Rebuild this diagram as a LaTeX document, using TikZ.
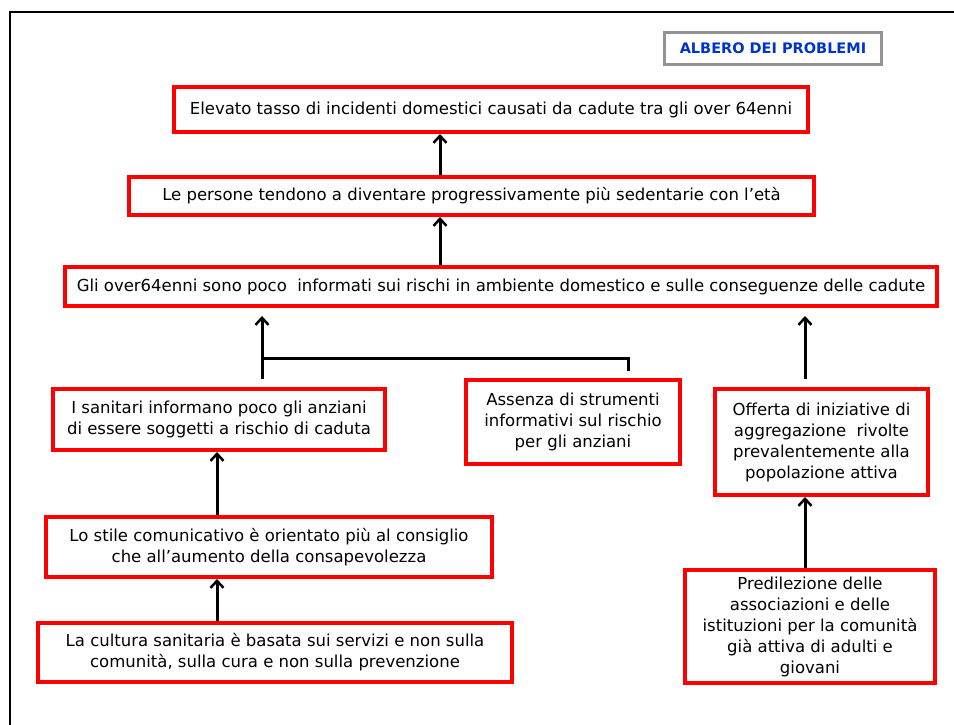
\documentclass[tikz,border=0pt]{standalone}
\usepackage{fontspec}
\setmainfont{DejaVu Sans}
\usetikzlibrary{arrows.meta}
\definecolor{boxred}{RGB}{255,0,0}
\definecolor{titleblue}{RGB}{0,51,204}
\begin{document}
\begin{tikzpicture}[x=1pt,y=-1pt,
  box/.style={draw=boxred, line width=4pt, fill=white, inner sep=0pt, align=center,
    anchor=north west, font=\fontsize{16.5}{21}\selectfont},
  titlebox/.style={draw=gray!85, line width=3pt, fill=white, inner sep=0pt, anchor=north west,
    text=titleblue, font=\fontsize{14.5}{16}\selectfont\bfseries},
  arr/.style={line width=3pt, -{Straight Barb[length=7pt,width=13pt,line width=2.5pt]}},
  link/.style={line width=3pt}]
\useasboundingbox (0,0) rectangle (954,725);
\draw[line width=2.5pt] (954,12) -- (10,12) -- (10,725);
\node[titlebox, minimum width=217pt, minimum height=32pt] (title) at (663,31) {ALBERO DEI PROBLEMI};
\node[box, minimum width=634pt, minimum height=45pt] (b1) at (172,85)
  {Elevato tasso di incidenti domestici causati da cadute tra gli over 64enni};
\node[box, minimum width=685pt, minimum height=38pt] (b2) at (127,175)
  {Le persone tendono a diventare progressivamente più sedentarie con l’età};
\node[box, minimum width=872pt, minimum height=39pt] (b3) at (63,265)
  {Gli over64enni sono poco\ \ informati sui rischi in ambiente domestico e sulle conseguenze delle cadute};
\node[box, minimum width=332pt, minimum height=61pt] (b4) at (51,387)
  {I sanitari informano poco gli anziani\\di essere soggetti a rischio di caduta};
\node[box, minimum width=446pt, minimum height=60pt] (b5) at (44,515)
  {Lo stile comunicativo è orientato più al consiglio\\che all’aumento della consapevolezza};
\node[box, minimum width=474pt, minimum height=59pt] (b6) at (36,621)
  {La cultura sanitaria è basata sui servizi e non sulla\\comunità, sulla cura e non sulla prevenzione};
\node[box, minimum width=214pt, minimum height=84pt] (b7) at (464,378)
  {Assenza di strumenti\\informativi sul rischio\\per gli anziani};
\node[box, minimum width=213pt, minimum height=106pt] (b8) at (713,387)
  {Offerta di iniziative di\\aggregazione\ \ rivolte\\prevalentemente alla\\popolazione attiva};
\node[box, minimum width=250pt, minimum height=113pt] (b9) at (683,568)
  {Predilezione delle\\associazioni e delle\\istituzioni per la comunità\\già attiva di adulti e\\giovani};
\coordinate (xa) at (440,0);
\coordinate (xb) at (262,0);
\coordinate (xc) at (628,0);
\coordinate (xd) at (217,0);
\coordinate (xe) at (805,0);
\coordinate (jn) at (262,358);
\draw[arr] (b2.north -| xa) -- (b1.south -| xa);
\draw[arr] (b3.north -| xa) -- (b2.south -| xa);
\draw[arr, shorten <=8pt, shorten >=8pt] (b4.north -| xb) -- (b3.south -| xb);
\draw[link, shorten <=7pt] (b7.north -| xc) |- (jn);
\draw[arr] (b5.north -| xd) -- (b4.south -| xd);
\draw[arr] (b6.north -| xd) -- (b5.south -| xd);
\draw[arr, shorten <=8pt, shorten >=8pt] (b8.north -| xe) -- (b3.south -| xe);
\draw[arr] (b9.north -| xe) -- (b8.south -| xe);
\end{tikzpicture}
\end{document}
